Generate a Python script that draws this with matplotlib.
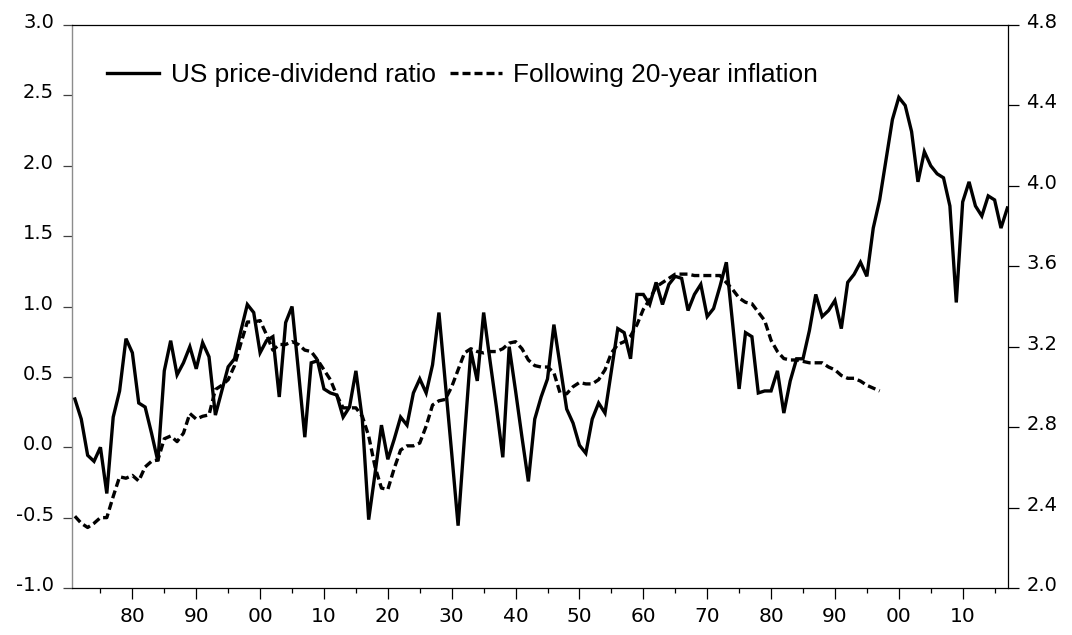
import matplotlib
matplotlib.use("Agg")
import matplotlib.pyplot as plt
import matplotlib.transforms as mtransforms
from matplotlib.ticker import FixedLocator, FixedFormatter
from matplotlib.lines import Line2D

plt.rcParams['font.family'] = ['Liberation Sans', 'DejaVu Sans']

# ---------------- data ----------------
years_pd = list(range(1871, 2018))
# log price-dividend ratio (right axis)
pd_ratio = [
    2.94, 2.84, 2.66, 2.63, 2.70, 2.47, 2.85, 2.98, 3.24, 3.17,   # 1871-1880
    2.92, 2.90, 2.77, 2.63, 3.08, 3.23, 3.06, 3.12, 3.20, 3.09,   # 1881-1890
    3.22, 3.15, 2.86, 2.98, 3.10, 3.14, 3.28, 3.41, 3.37, 3.17,   # 1891-1900
    3.23, 3.25, 2.95, 3.32, 3.40, 3.08, 2.75, 3.12, 3.13, 2.99,   # 1901-1910
    2.97, 2.96, 2.85, 2.90, 3.08, 2.84, 2.34, 2.57, 2.81, 2.64,   # 1911-1920
    2.74, 2.85, 2.81, 2.97, 3.04, 2.97, 3.11, 3.37, 3.02, 2.67,   # 1921-1930
    2.31, 2.75, 3.18, 3.03, 3.37, 3.13, 2.90, 2.65, 3.20, 2.98,   # 1931-1940
    2.75, 2.53, 2.84, 2.95, 3.04, 3.31, 3.10, 2.89, 2.82, 2.71,   # 1941-1950
    2.67, 2.84, 2.92, 2.87, 3.08, 3.29, 3.27, 3.14, 3.46, 3.46,   # 1951-1960
    3.41, 3.52, 3.41, 3.51, 3.55, 3.54, 3.38, 3.46, 3.51, 3.35,   # 1961-1970
    3.39, 3.50, 3.62, 3.31, 2.99, 3.27, 3.25, 2.97, 2.98, 2.98,   # 1971-1980
    3.08, 2.87, 3.03, 3.14, 3.14, 3.28, 3.46, 3.35, 3.38, 3.43,   # 1981-1990
    3.29, 3.52, 3.56, 3.62, 3.55, 3.79, 3.93, 4.13, 4.33, 4.44,   # 1991-2000
    4.40, 4.27, 4.02, 4.17, 4.10, 4.06, 4.04, 3.90, 3.42, 3.92,   # 2001-2010
    4.02, 3.90, 3.85, 3.95, 3.93, 3.79, 3.89,                     # 2011-2017
]

years_inf = list(range(1871, 1998))
# following 20-year inflation (left axis)
inflation = [
    -0.49, -0.54, -0.57, -0.54, -0.50, -0.50, -0.35, -0.21, -0.22, -0.20,   # 1871-1880
    -0.24, -0.14, -0.10, -0.09, 0.06, 0.08, 0.04, 0.10, 0.24, 0.20,         # 1881-1890
    0.22, 0.23, 0.41, 0.44, 0.48, 0.58, 0.74, 0.89, 0.89, 0.90,             # 1891-1900
    0.80, 0.69, 0.73, 0.73, 0.75, 0.73, 0.69, 0.68, 0.62, 0.55,             # 1901-1910
    0.48, 0.37, 0.28, 0.28, 0.28, 0.22, 0.08, -0.14, -0.29, -0.30,          # 1911-1920
    -0.15, -0.02, 0.01, 0.01, 0.03, 0.15, 0.30, 0.33, 0.34, 0.43,           # 1921-1930
    0.55, 0.67, 0.70, 0.68, 0.67, 0.68, 0.68, 0.70, 0.74, 0.75,             # 1931-1940
    0.70, 0.62, 0.58, 0.57, 0.57, 0.53, 0.38, 0.38, 0.43, 0.46,             # 1941-1950
    0.45, 0.45, 0.48, 0.55, 0.67, 0.73, 0.75, 0.79, 0.87, 0.98,             # 1951-1960
    1.05, 1.14, 1.17, 1.20, 1.23, 1.23, 1.23, 1.22, 1.22, 1.22,             # 1961-1970
    1.22, 1.22, 1.17, 1.12, 1.06, 1.03, 1.02, 0.96, 0.90, 0.76,             # 1971-1980
    0.68, 0.63, 0.62, 0.62, 0.61, 0.60, 0.60, 0.60, 0.57, 0.55,             # 1981-1990
    0.51, 0.49, 0.49, 0.47, 0.44, 0.42, 0.40,                               # 1991-1997
]

left_ticks = [-1.0, -0.5, 0.0, 0.5, 1.0, 1.5, 2.0, 2.5, 3.0]
left_labels = ['-1.0', '-0.5', '0.0', '0.5', '1.0', '1.5', '2.0', '2.5', '3.0']
right_ticks = [2.0, 2.4, 2.8, 3.2, 3.6, 4.0, 4.4, 4.8]
right_labels = ['2.0', '2.4', '2.8', '3.2', '3.6', '4.0', '4.4', '4.8']
x_major = [1880, 1890, 1900, 1910, 1920, 1930, 1940, 1950, 1960, 1970,
           1980, 1990, 2000, 2010]
x_labels = ['80', '90', '00', '10', '20', '30', '40', '50', '60', '70',
            '80', '90', '00', '10']
x_minor = [1875, 1885, 1895, 1905, 1915, 1925, 1935, 1945, 1955, 1965,
           1975, 1985, 1995, 2005, 2015]

legend_labels = ['US price-dividend ratio', 'Following 20-year inflation']

# ---------------- figure ----------------
W, H = 1072, 635
fig = plt.figure(figsize=(W / 100, H / 100), dpi=100)
ax = fig.add_axes([72 / W, 47 / H, 935.7 / W, 563 / H])
ax2 = ax.twinx()

LW = 2.4
DASH = (2.4, 1.2)

ax.plot(years_inf, inflation, color='black', lw=LW, dashes=DASH,
        solid_joinstyle='miter')
ax2.plot(years_pd, pd_ratio, color='black', lw=LW, solid_joinstyle='miter')

ax.set_xlim(1870.55, 2017.05)
ax.set_ylim(-1.0, 3.0)
ax2.set_ylim(2.0, 4.8)

# spines
ax.spines['left'].set_color('#8c8c8c')
ax.spines['left'].set_linewidth(1.0)
ax.spines['right'].set_visible(False)
for s in ['top', 'bottom']:
    ax.spines[s].set_color('black')
    ax.spines[s].set_linewidth(0.9)
for s in ['left', 'top', 'bottom']:
    ax2.spines[s].set_visible(False)
ax2.spines['right'].set_color('black')
ax2.spines['right'].set_linewidth(0.9)

# ticks
ax.xaxis.set_major_locator(FixedLocator(x_major))
ax.xaxis.set_major_formatter(FixedFormatter(x_labels))
ax.xaxis.set_minor_locator(FixedLocator(x_minor))
ax.yaxis.set_major_locator(FixedLocator(left_ticks))
ax.yaxis.set_major_formatter(FixedFormatter(left_labels))
ax2.yaxis.set_major_locator(FixedLocator(right_ticks))
ax2.yaxis.set_major_formatter(FixedFormatter(right_labels))

ax.tick_params(axis='x', which='major', direction='out', length=8, width=0.9,
               pad=6, labelsize=14.5, colors='black', top=False)
ax.tick_params(axis='x', which='minor', direction='out', length=3.6, width=0.9,
               top=False)
ax.tick_params(axis='y', which='major', direction='out', length=6.5, width=0.9,
               pad=6.5, labelsize=14, color='#404040', labelcolor='black')
ax2.tick_params(axis='y', which='major', direction='out', length=8, width=0.9,
                pad=5.5, labelsize=14, colors='black')

tick_font = 'DejaVu Sans'

# shift y tick labels slightly up (as in reference)
off = mtransforms.ScaledTranslation(0, 0.045, fig.dpi_scale_trans)
for t in ax.yaxis.get_major_ticks():
    t.label1.set_transform(t.label1.get_transform() + off)
    t.label1.set_family(tick_font)
for t in ax2.yaxis.get_major_ticks():
    t.label2.set_transform(t.label2.get_transform() + off)
    t.label2.set_family(tick_font)
for t in ax.xaxis.get_major_ticks():
    t.label1.set_family(tick_font)

# legend
h1 = Line2D([], [], color='black', lw=LW)
h2 = Line2D([], [], color='black', lw=LW, dashes=DASH)
leg = ax2.legend([h1, h2], legend_labels, loc='center left',
                 bbox_to_anchor=(0.0374, 0.911), ncol=2, frameon=False,
                 borderpad=0, borderaxespad=0, handlelength=1.97,
                 handletextpad=0.45, columnspacing=0.55,
                 prop={'family': 'Liberation Sans', 'size': 18.9})

fig.savefig('out.png', dpi=100)
